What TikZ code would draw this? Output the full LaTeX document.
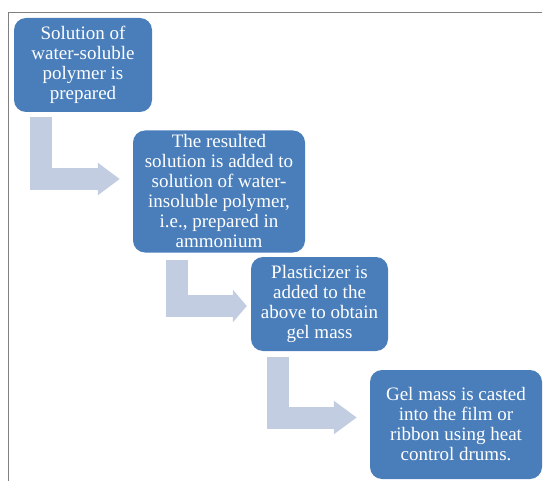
\documentclass[tikz,border=0pt]{standalone}
\usepackage{fontspec}
\setmainfont{Liberation Serif}
\usetikzlibrary{arrows.meta}
\definecolor{boxblue}{HTML}{4A7EBB}
\definecolor{arrowgrey}{HTML}{C3CDE1}
\definecolor{framegrey}{HTML}{808080}
\tikzset{
	stepbox/.style={fill=boxblue, rounded corners=12pt, text=white, align=center, inner sep=0pt,
		font=\fontsize{19}{20}\selectfont},
	bentarrow/.style={draw=arrowgrey, line width=22pt, line join=miter, line cap=butt},
}
\begin{document}
\begin{tikzpicture}[x=1pt, y=-1pt]
	
	\useasboundingbox (0,0) rectangle (543,481);
	
	\draw[framegrey, line width=1.2pt] (542,12.7) -- (8.7,12.7) -- (8.7,481);
	
	\node[stepbox, minimum width=138pt, minimum height=94pt] (prep) at (83,65)
		{Solution of\\water-soluble\\polymer is\\prepared};
	\node[stepbox, minimum width=172pt, minimum height=122pt] (mix) at (219,191.5)
		{The resulted\\solution is added to\\solution of water-\\insoluble polymer,\\i.e., prepared in\\ammonium};
	\node[stepbox, minimum width=137pt, minimum height=94pt] (plast) at (319.5,304)
		{Plasticizer is\\added to the\\above to obtain\\gel mass};
	\node[stepbox, minimum width=172pt, minimum height=109pt] (cast) at (456,424.5)
		{Gel mass is casted\\into the film or\\ribbon using heat\\control drums.};
	
	\draw[bentarrow, -{Triangle[width=31pt, length=22pt]}]
		([xshift=27.5pt, yshift=-5pt]prep.south west) |- ([xshift=-13pt, yshift=12.5pt]mix.west);
	\draw[bentarrow, -{Triangle[width=32pt, length=14pt]}]
		([xshift=44pt, yshift=-7pt]mix.south west) |- ([xshift=-4pt, yshift=-2pt]plast.west);
	\draw[bentarrow, -{Triangle[width=32pt, length=23pt]}]
		([xshift=27.5pt, yshift=-6pt]plast.south west) |- ([xshift=-13pt, yshift=7pt]cast.west);
	
\end{tikzpicture}
\end{document}
